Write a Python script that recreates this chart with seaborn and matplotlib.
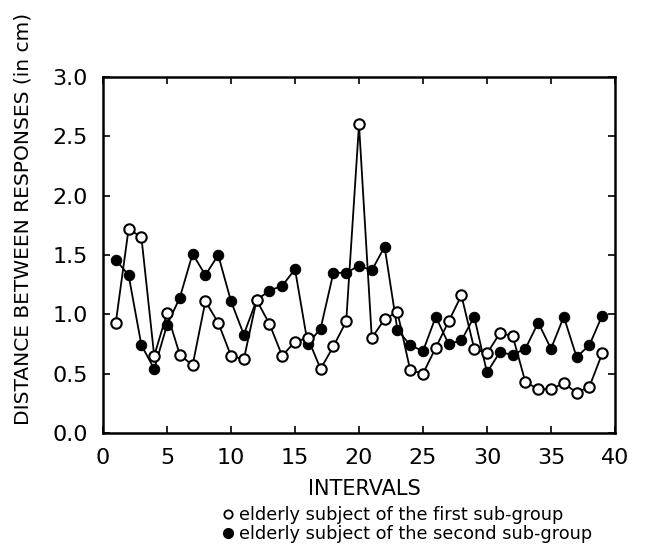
import matplotlib
matplotlib.use("Agg")
import matplotlib.pyplot as plt
from matplotlib.lines import Line2D
import seaborn as sns
import pandas as pd

intervals = list(range(1, 40))
first_subgroup = [0.93, 1.72, 1.65, 0.65, 1.01, 0.66, 0.57, 1.11, 0.93, 0.65,
                  0.62, 1.12, 0.92, 0.65, 0.77, 0.80, 0.54, 0.73, 0.94, 2.60,
                  0.80, 0.96, 1.02, 0.53, 0.50, 0.72, 0.94, 1.16, 0.71, 0.67,
                  0.84, 0.82, 0.43, 0.37, 0.37, 0.42, 0.34, 0.39, 0.67]
second_subgroup = [1.46, 1.33, 0.74, 0.54, 0.91, 1.14, 1.51, 1.33, 1.50, 1.11,
                   0.83, 1.12, 1.20, 1.24, 1.38, 0.75, 0.88, 1.35, 1.35, 1.41,
                   1.37, 1.57, 0.87, 0.74, 0.69, 0.98, 0.75, 0.78, 0.98, 0.51,
                   0.68, 0.66, 0.71, 0.93, 0.71, 0.98, 0.64, 0.74, 0.99]
series_labels = ["elderly subject of the first sub-group",
                 "elderly subject of the second sub-group"]
x_ticks = [0, 5, 10, 15, 20, 25, 30, 35, 40]
y_ticks = [0.0, 0.5, 1.0, 1.5, 2.0, 2.5, 3.0]

sns.set_style("ticks")
plt.rcParams['font.family'] = ['DejaVu Sans']
plt.rcParams['text.color'] = 'black'
plt.rcParams['axes.labelcolor'] = 'black'

df1 = pd.DataFrame({"interval": intervals, "distance": first_subgroup})
df2 = pd.DataFrame({"interval": intervals, "distance": second_subgroup})

fig = plt.figure(figsize=(6.52, 5.45), dpi=100)
ax = fig.add_axes([103/652, 1 - 433/545, (615-103)/652, (433-77)/545])

sns.lineplot(data=df2, x="interval", y="distance", ax=ax, color="black",
             linewidth=1.3, marker="o", markersize=7.5, markerfacecolor="black",
             markeredgecolor="black", legend=False, zorder=2)
sns.lineplot(data=df1, x="interval", y="distance", ax=ax, color="black",
             linewidth=1.3, marker="o", markersize=7.5, markerfacecolor="white",
             markeredgecolor="black", markeredgewidth=1.5, legend=False, zorder=3)

ax.set_xlim(0, 40)
ax.set_ylim(0, 3.0)
ax.set_xticks(x_ticks)
ax.set_yticks(y_ticks)
ax.set_xticklabels([str(v) for v in x_ticks], fontsize=16)
ax.set_yticklabels([f"{v:.1f}" for v in y_ticks], fontsize=16)
ax.tick_params(direction="in", length=5, width=1.2, top=True, right=True,
               colors="black", pad=11)
for s in ax.spines.values():
    s.set_linewidth(1.8)
    s.set_color("black")
    s.set_visible(True)

ax.set_xlabel("INTERVALS", fontsize=15)
ax.xaxis.set_label_coords(0.51, -0.128)
ax.set_ylabel("DISTANCE BETWEEN RESPONSES (in cm)", fontsize=14.5)
ax.yaxis.set_label_coords(-0.137, 0.6)

h = [Line2D([], [], linestyle="none", marker="o", markersize=6,
            markerfacecolor="white", markeredgecolor="black", markeredgewidth=1.3),
     Line2D([], [], linestyle="none", marker="o", markersize=7,
            markerfacecolor="black", markeredgecolor="black")]
ax.legend(h, series_labels, loc="upper left", bbox_to_anchor=(214/652, 1 - 497/545),
          bbox_transform=fig.transFigure, frameon=False, fontsize=12.8,
          handlelength=0.6, handletextpad=0.3, labelspacing=0.05, borderpad=0)

fig.savefig("out.png", dpi=100, facecolor="white")
